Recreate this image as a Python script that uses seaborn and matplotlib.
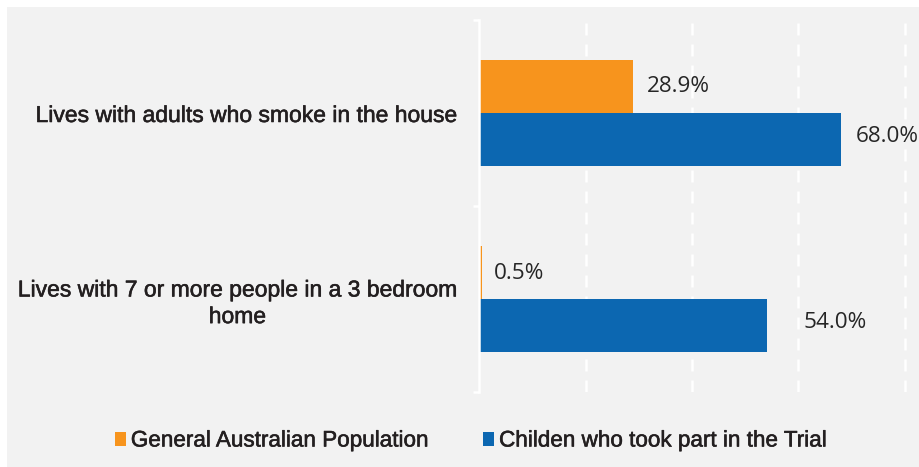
import matplotlib
matplotlib.use("Agg")
import matplotlib.pyplot as plt
import matplotlib.patches as mpatches
import matplotlib.patheffects as pe
import seaborn as sns
import pandas as pd

categories = ["Lives with adults who smoke in the house",
              "Lives with 7 or more people in a 3 bedroom\nhome"]
series = ["General Australian Population", "Childen who took part in the Trial"]
general_vals = [28.9, 0.5]
trial_vals = [68.0, 54.0]
value_labels_general = ["28.9%", "0.5%"]
value_labels_trial = ["68.0%", "54.0%"]

colors = ["#f7941d", "#0c67b1"]

df = pd.DataFrame({
    "category": categories * 2,
    "series": [series[0]] * 2 + [series[1]] * 2,
    "value": general_vals + trial_vals,
})

sns.set_theme(style="white")
plt.rcParams["font.family"] = ["Liberation Sans", "DejaVu Sans"]

TEXT = "#231f20"
thick = [pe.withStroke(linewidth=0.4, foreground=TEXT)]

W, H = 920, 467
fig = plt.figure(figsize=(W / 100, H / 100), dpi=100, facecolor="white")
# grey panel
fig.patches.append(mpatches.Rectangle((7 / W, 0), 1 - 7 / W, (H - 7) / H,
                                      transform=fig.transFigure, facecolor="#f2f2f2",
                                      edgecolor="none", zorder=-5))

left = 479 / W
xmax = 81.5
px_per = 426 / 80
right = (479 + xmax * px_per) / W
bottom = (H - 392) / H
top = (H - 20) / H
ax = fig.add_axes([left, bottom, right - left, top - bottom])
ax.set_facecolor("#f2f2f2")

sns.barplot(data=df, x="value", y="category", hue="series", hue_order=series,
            palette=colors, orient="h", width=0.57, ax=ax, legend=False,
            saturation=1, edgecolor="none", zorder=3)

ax.set_xlim(0, xmax)
ax.set_ylim(1.5, -0.5)
ax.set_xlabel("")
ax.set_ylabel("")

# gridlines
ax.set_xticks([20, 40, 60, 80])
ax.xaxis.grid(True, color="white", linestyle=(0, (4.8, 3.6)), linewidth=1.8, zorder=1)
ax.yaxis.grid(False)
ax.set_axisbelow(True)
ax.tick_params(axis="x", length=0, labelbottom=False)

for s in ["top", "right", "bottom"]:
    ax.spines[s].set_visible(False)
ax.spines["left"].set_color("white")
ax.spines["left"].set_linewidth(1.8)
ax.spines["left"].set_zorder(4)

ax.set_yticks([-0.5, 0.5, 1.5], minor=True)
ax.tick_params(axis="y", which="minor", length=4.5, width=1.8, color="white", left=True)
ax.tick_params(axis="y", which="major", length=0, pad=15.8)
for lab in ax.get_yticklabels():
    lab.set_fontsize(16.5)
    lab.set_color(TEXT)
    lab.set_multialignment("center")
    lab.set_path_effects(thick)

# value labels
label_dx = [[14, 12], [15, 37]]  # pixel offsets from bar end
label_dy = [[0, -1], [3, 3]]
all_labels = [value_labels_general, value_labels_trial]
for ci, cont in enumerate(ax.containers):
    for bi, bar in enumerate(cont):
        xe = bar.get_x() + bar.get_width()
        yc = bar.get_y() + bar.get_height() / 2
        ax.annotate(all_labels[ci][bi], xy=(xe, yc),
                    xytext=(label_dx[ci][bi] * 0.72, label_dy[ci][bi] * 0.72),
                    textcoords="offset points", ha="left", va="center",
                    fontsize=16.2, color="#262626", family=["Open Sans", "DejaVu Sans"],
                    annotation_clip=False)

handles = [mpatches.Patch(facecolor=c, edgecolor="none", label=s) for c, s in zip(colors, series)]
leg = fig.legend(handles=handles, loc="center", bbox_to_anchor=(471 / W, (H - 441) / H),
                 ncol=2, frameon=False, fontsize=16.2, handlelength=0.49, handleheight=0.58,
                 handletextpad=0.22, columnspacing=2.4, labelcolor=TEXT,
                 borderpad=0, borderaxespad=0)
for t in leg.get_texts():
    t.set_path_effects(thick)

fig.savefig("out.png", dpi=100, facecolor="white")
